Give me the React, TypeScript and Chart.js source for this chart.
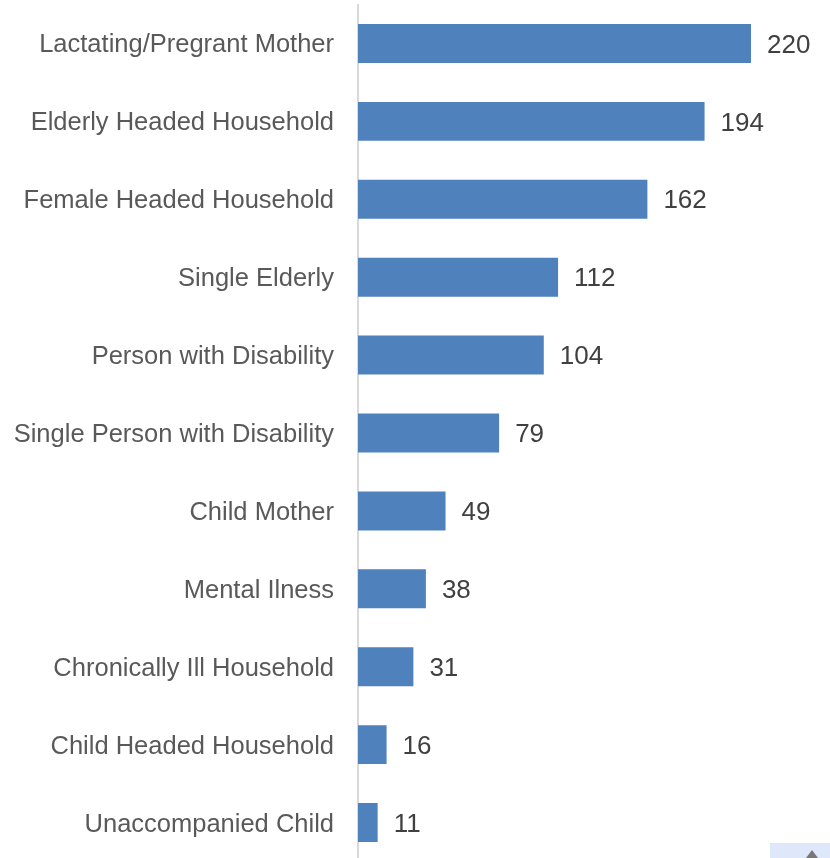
import React, { useEffect, useRef } from "react";
import { Chart, registerables } from "chart.js";

Chart.register(...registerables);

const categories = [
  "Lactating/Pregrant Mother",
  "Elderly Headed Household",
  "Female Headed Household",
  "Single Elderly",
  "Person with Disability",
  "Single Person with Disability",
  "Child Mother",
  "Mental Ilness",
  "Chronically Ill Household",
  "Child Headed Household",
  "Unaccompanied Child",
];
const values = [220, 194, 162, 112, 104, 79, 49, 38, 31, 16, 11];

const FONT = "'Liberation Sans', Arial, sans-serif";

const valueLabels = {
  id: "valueLabels",
  afterDatasetsDraw(chart: any) {
    const ctx = chart.ctx;
    const meta = chart.getDatasetMeta(0);
    ctx.save();
    ctx.font = `26px ${FONT}`;
    ctx.fillStyle = "#404040";
    ctx.textAlign = "left";
    ctx.textBaseline = "middle";
    meta.data.forEach((bar: any, i: number) => {
      ctx.fillText(String(values[i]), bar.x + 16, bar.y + 2);
    });
    ctx.restore();
  },
};

export default function App() {
  const ref = useRef<HTMLCanvasElement | null>(null);
  useEffect(() => {
    if (!ref.current) return;
    const chart = new Chart(ref.current, {
      type: "bar",
      data: {
        labels: categories,
        datasets: [
          {
            data: values,
            backgroundColor: "#4F81BD",
            borderWidth: 0,
            barPercentage: 0.5,
            categoryPercentage: 1,
          },
        ],
      },
      options: {
        indexAxis: "y",
        responsive: false,
        animation: false,
        devicePixelRatio: 1,
        layout: { padding: { top: 4.5, bottom: 8.5, left: 0, right: 25.4 } },
        plugins: { legend: { display: false }, tooltip: { enabled: false } },
        scales: {
          x: { display: false, min: 0, max: 250 },
          y: {
            afterFit: (s: any) => {
              s.width = 358;
              s.paddingTop = 0;
              s.paddingBottom = 0;
            },
            grid: { display: false, drawTicks: false },
            border: { display: true, color: "#d9d9d9", width: 2 },
            ticks: {
              padding: 24,
              labelOffset: 2,
              color: "#595959",
              font: { family: FONT, size: 25.5 },
            },
          },
        },
      },
      plugins: [valueLabels],
    });
    return () => chart.destroy();
  }, []);
  return (
    <div
      style={{
        position: "absolute",
        left: 0,
        top: 0,
        width: 830,
        height: 858,
        overflow: "hidden",
        background: "#fff",
      }}
    >
      <canvas ref={ref} width={830} height={870} style={{ display: "block" }} />
      <div
        style={{
          position: "absolute",
          left: 770,
          top: 843,
          width: 60,
          height: 15,
          background: "#dfe8fb",
        }}
      >
        <div
          style={{
            position: "absolute",
            left: 36,
            top: 7,
            width: 0,
            height: 0,
            borderLeft: "6px solid transparent",
            borderRight: "6px solid transparent",
            borderBottom: "8px solid #777",
          }}
        />
      </div>
    </div>
  );
}
